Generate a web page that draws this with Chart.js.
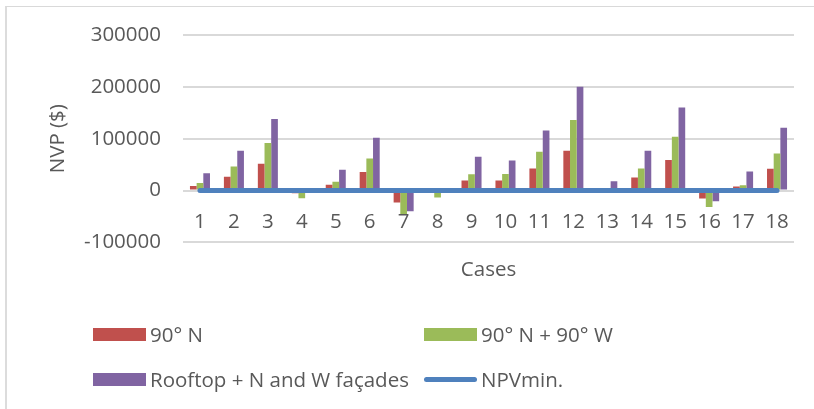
<!DOCTYPE html>
<html>
<head>
<meta charset="utf-8">
<script src="https://cdn.jsdelivr.net/npm/chart.js@4.4.1/dist/chart.umd.min.js"></script>
<style>
	body { margin: 0; background: #fff; }
	#wrap { position: relative; width: 814px; height: 409px; overflow: hidden; }
	#frame { position: absolute; left: 5px; top: 6px; width: 900px; height: 500px; border-top: 1px solid #d9d9d9; border-left: 2px solid #dcdcdc; pointer-events: none; }
	#chart { position: absolute; left: 0; top: 0; }
	#legend { position: absolute; left: 93px; top: 322px; display: grid; grid-template-columns: 331px 331px; grid-auto-rows: 45px; font: 20.5px "Open Sans", sans-serif; color: #595959; }
	.item { display: flex; align-items: center; height: 24px; white-space: nowrap; }
	.mark { width: 53px; height: 13px; margin-right: 4px; flex: none; }
	.mark.line { height: 5px; border-radius: 3px; }
</style>
</head>
<body>
<div id="wrap">
	<div id="frame"></div>
	<canvas id="chart" width="814" height="409"></canvas>
	<div id="legend"></div>
</div>
<script>
(function() {

	/* ================= Data ================= */

	var cases = ['1', '2', '3', '4', '5', '6', '7', '8', '9', '10', '11', '12', '13', '14', '15', '16', '17', '18'];
	var north90 = [9000, 26500, 51600, -5000, 11000, 36000, -23000, -2000, 19400, 19400, 42600, 76800, 1500, 25000, 59000, -15500, 7700, 42000];
	var north90west90 = [14800, 46500, 91600, -14800, 16800, 62000, -45000, -13500, 31600, 32000, 75000, 136000, 2500, 42600, 104000, -31600, 10300, 71600];
	var rooftopNW = [33500, 76800, 138000, -2000, 40000, 102000, -40000, -2000, 65000, 58000, 116000, 200000, 18000, 76800, 160000, -20600, 36800, 121000];
	var npvMin = [0, 0, 0, 0, 0, 0, 0, 0, 0, 0, 0, 0, 0, 0, 0, 0, 0, 0];

	var textColor = '#595959';
	var font = { family: '"Open Sans", sans-serif', size: 20.5 };

	var ctx = document.getElementById('chart');
	var chart = new Chart(ctx, {
		type: 'bar',
		data: {
			labels: cases,
			datasets: [{
				label: '90° N',
				data: north90,
				backgroundColor: '#c0504d',
				order: 1
			}, {
				label: '90° N + 90° W',
				data: north90west90,
				backgroundColor: '#9bbb59',
				order: 1
			}, {
				label: 'Rooftop + N and W façades',
				data: rooftopNW,
				backgroundColor: '#8064a2',
				order: 1
			}, {
				type: 'line',
				label: 'NPVmin.',
				data: npvMin,
				borderColor: '#4f81bd',
				backgroundColor: '#4f81bd',
				borderWidth: 5,
				borderCapStyle: 'round',
				pointRadius: 0,
				order: 0
			}]
		},
		options: {
			responsive: false,
			animation: false,
			datasets: {
				bar: { categoryPercentage: 0.59, barPercentage: 1 }
			},
			layout: { padding: { top: 35, right: 20, bottom: 127, left: 0 } },
			plugins: {
				legend: { display: false },
				tooltip: { enabled: false }
			},
			scales: {
				x: {
					position: { y: 0 },
					grid: { display: false, drawTicks: false },
					border: { display: false },
					ticks: { color: textColor, font: font, padding: 19 }
				},
				x2: {
					type: 'category',
					position: 'bottom',
					grid: { display: false, drawTicks: false },
					border: { display: false },
					ticks: { display: false },
					title: { display: true, text: 'Cases', color: textColor, font: font, padding: { top: 15, bottom: 0 } }
				},
				y: {
					min: -100000,
					max: 300000,
					grid: { color: '#d9d9d9', lineWidth: 2, drawTicks: false },
					border: { display: false },
					ticks: {
						stepSize: 100000,
						padding: 22,
						color: textColor,
						font: font,
						callback: function(value) { return String(value); }
					},
					title: { display: true, text: 'NVP ($)', color: textColor, font: font, padding: { top: 46, bottom: 0 } },
					afterFit: function(scale) { scale.width = 183; }
				}
			}
		}
	});

	/* ================= Legend ================= */

	var items = chart.options.plugins.legend.labels.generateLabels(chart);
	items.sort(function(a, b) { return a.datasetIndex - b.datasetIndex; });
	var legend = document.getElementById('legend');
	items.forEach(function(item) {
		var ds = chart.data.datasets[item.datasetIndex];
		var div = document.createElement('div');
		div.className = 'item';
		var mark = document.createElement('span');
		mark.className = ds.type === 'line' ? 'mark line' : 'mark';
		mark.style.background = ds.type === 'line' ? ds.borderColor : ds.backgroundColor;
		div.appendChild(mark);
		div.appendChild(document.createTextNode(item.text));
		legend.appendChild(div);
	});

})();
</script>
</body>
</html>
